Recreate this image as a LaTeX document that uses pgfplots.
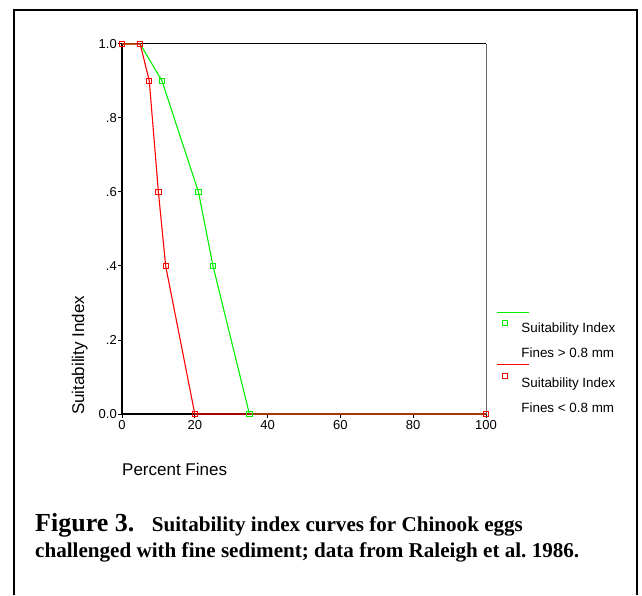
\documentclass[border=0pt]{standalone}
\usepackage{pgfplots}
\pgfplotsset{compat=1.18}
\usepackage{fontspec}
\setmainfont{Liberation Sans}
\newfontfamily\serif{Liberation Serif}
\definecolor{sgreen}{RGB}{0,240,0}
\definecolor{sred}{RGB}{255,0,0}
\pgfplotstableread{
x y
0 1
5 1
11 0.9
21 0.6
25 0.4
35 0
100 0
}\greendata
\pgfplotstableread{
x y
0 1
5 1
7.5 0.9
10 0.6
12 0.4
20 0
100 0
}\reddata
\newcommand\lstrut{\rule[-3pt]{0pt}{10pt}}
\newcommand\lstrutc{\rule[-3pt]{0pt}{18pt}}
\begin{document}
\frenchspacing
\begin{tikzpicture}[x=1pt,y=1pt]
\useasboundingbox (0pt,0pt) rectangle (642pt,595pt);
\draw[line width=2.5pt] (14pt,0pt) -- (14pt,585.75pt);
\draw[line width=1.5pt] (12.75pt,585pt) -- (638pt,585pt);
\draw[line width=2pt] (637pt,0pt) -- (637pt,585.75pt);
\begin{axis}[
  at={(122pt,181pt)}, anchor=south west,
  scale only axis, width=364pt, height=370pt,
  xmin=0, xmax=100, ymin=0, ymax=1,
  xtick={0,20,40,60,80,100},
  ytick={0,0.2,0.4,0.6,0.8,1},
  yticklabels={0.0,.2,.4,.6,.8,1.0},
  xtick pos=left, ytick pos=left,
  tick align=outside, major tick length=4pt,
  tick style={black, line width=1pt},
  axis line style={draw=none},
  /pgf/number format/assume math mode=true,
  tick label style={font=\fontsize{13}{15}\selectfont},
  yticklabel style={inner sep=1pt},
  xticklabel style={inner sep=2pt},
  clip=false,
  xlabel={Percent Fines},
  ylabel={Suitability Index},
  label style={font=\fontsize{17}{20}\selectfont},
  xlabel style={at={(axis description cs:0,-0.165)}, anchor=base west, inner sep=0pt},
  ylabel style={at={(axis description cs:-0.104,-0.003)}, anchor=base west, inner sep=0pt},
  legend cell align=left,
  legend style={draw=none, fill=none, at={(axis description cs:1.044,0.253)}, anchor=north west,
    inner sep=0pt, row sep=13.7pt, column sep=14pt,
    font=\fontsize{13.4}{16}\selectfont,
    nodes={inner sep=0pt}},
  legend image code/.code={
    \draw[#1,overlay,mark=none] (-8pt,16pt) -- (24pt,16pt);
    \draw[#1,only marks] plot coordinates {(0pt,5pt)};
  },
]
\draw[black, line width=2pt] (rel axis cs:0,-0.003) -- (rel axis cs:0,1.003);
\draw[black, line width=2pt] (rel axis cs:-0.003,0) -- (rel axis cs:1,0);
\draw[black, line width=1pt] (rel axis cs:0,1) -- (rel axis cs:1,1);
\draw[gray!80!black, line width=0.8pt] (rel axis cs:1,0) -- (rel axis cs:1,1);
\addplot[sgreen, line width=1.1pt, mark=square, mark size=2.6pt, mark options={line width=0.9pt, solid}] table[x=x,y=y] {\greendata};
\addlegendentry{\lstrut Suitability Index}
\addlegendimage{empty legend}
\addlegendentry{\lstrut Fines > 0.8 mm}
\addplot[sred, line width=1.1pt, mark=square, mark size=2.6pt, mark options={line width=0.9pt, solid}] table[x=x,y=y] {\reddata};
\addlegendentry{\lstrutc Suitability Index}
\addlegendimage{empty legend}
\addlegendentry{\lstrut Fines < 0.8 mm}
\end{axis}
\node[anchor=base west, inner sep=0pt] at (35pt,63.3pt) {\serif\bfseries\fontsize{26}{30}\selectfont Figure 3.};
\node[anchor=base west, inner sep=0pt] at (151.7pt,63.3pt) {\serif\bfseries\fontsize{21.1}{24}\selectfont Suitability index curves for Chinook eggs};
\node[anchor=base west, inner sep=0pt] at (35pt,37.3pt) {\serif\bfseries\fontsize{21.1}{24}\selectfont challenged with fine sediment; data from Raleigh et al. 1986.};
\end{tikzpicture}
\end{document}
